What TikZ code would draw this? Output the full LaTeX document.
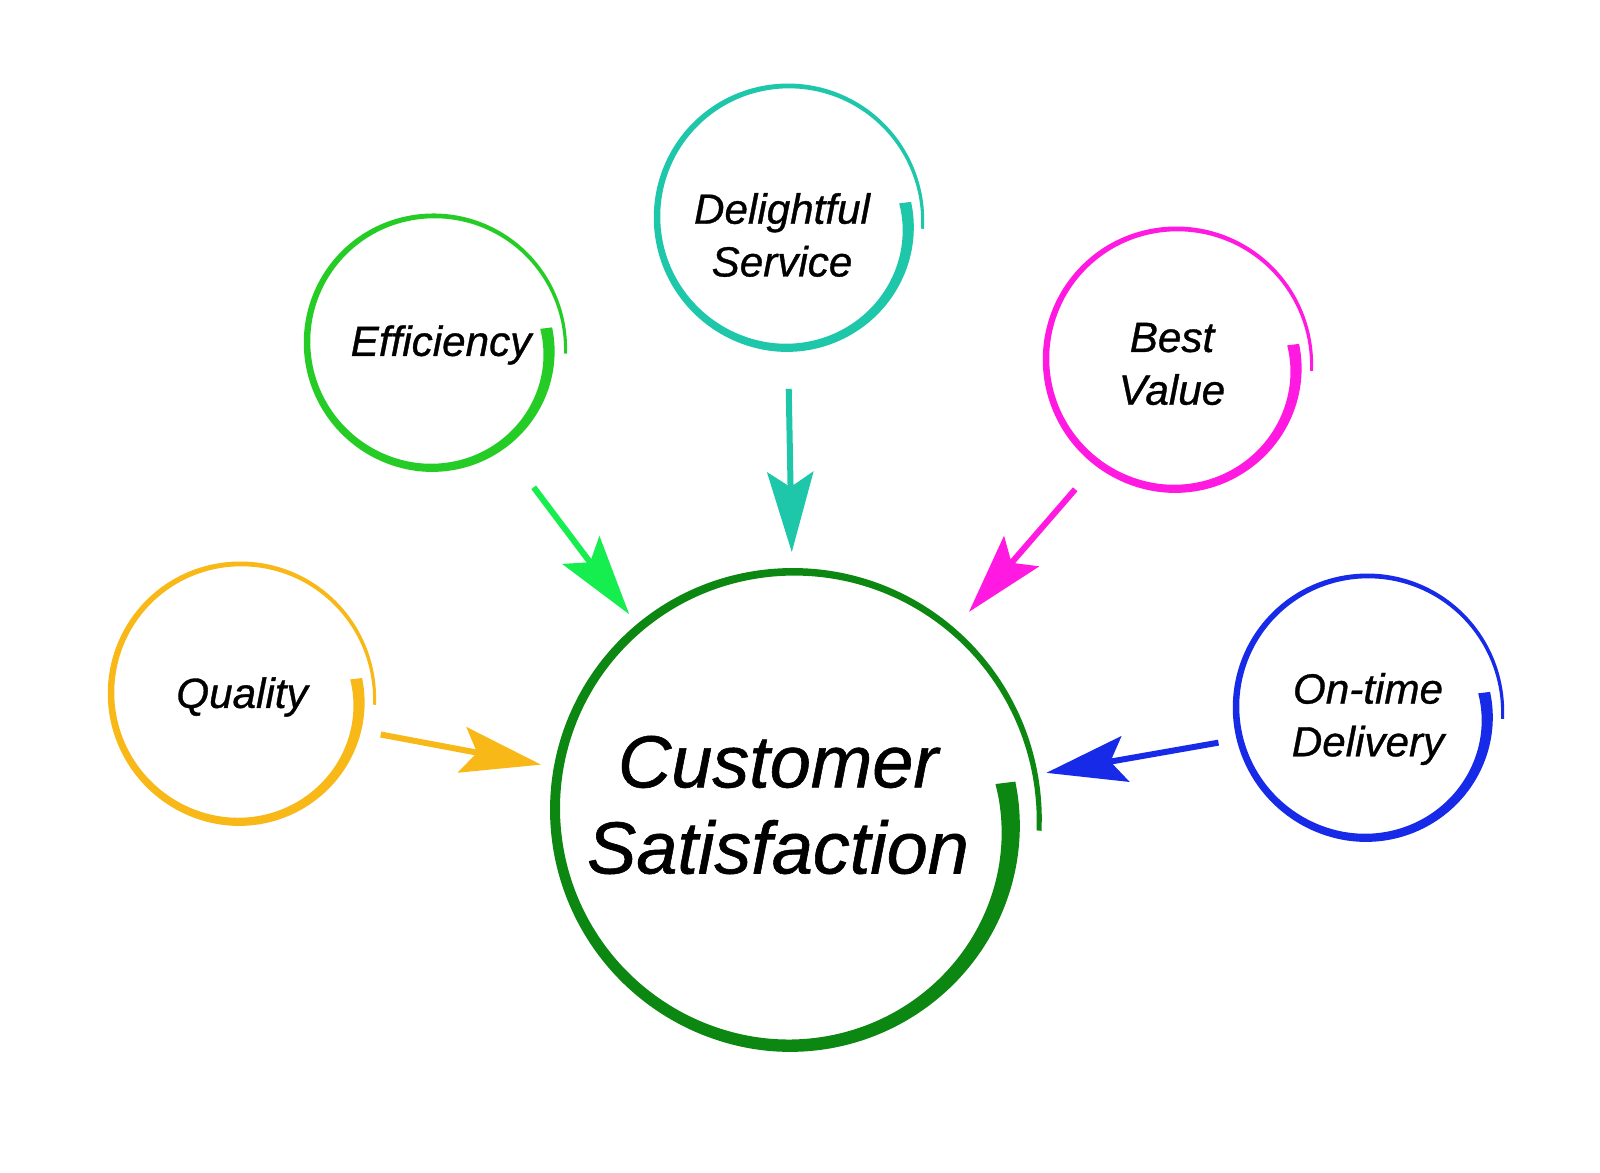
\documentclass[tikz,border=0pt]{standalone}
\usepackage{fontspec}
\setmainfont{Liberation Sans}[ItalicFeatures={FakeBold=0.8}]
\usetikzlibrary{arrows.meta, positioning}

\definecolor{csgreen}{RGB}{12,135,18}
\definecolor{qualityorange}{RGB}{247,184,24}
\definecolor{effgreen}{RGB}{38,204,38}
\definecolor{effarrow}{RGB}{22,238,80}
\definecolor{serviceteal}{RGB}{30,198,170}
\definecolor{valuemagenta}{RGB}{255,25,225}
\definecolor{deliveryblue}{RGB}{22,42,232}

\tikzset{
  ring/.style = {circle, inner sep=0pt, minimum size=2.66cm},
  hub/.style = {circle, inner sep=0pt, minimum size=4.88cm},
  lbl/.style = {align=center, font=\fontsize{12}{15}\selectfont\itshape},
  hublbl/.style = {align=center, font=\fontsize{21}{24.5}\selectfont\itshape},
  link/.style = {line width=0.06cm, -{Stealth[length=0.8cm, width=0.46cm, inset=0.15cm]}}
}

% brush ring: node, colour, radius, inward start, outward end, start width, mid width, end width
\newcommand{\brushring}[8]{%
  \begin{scope}[shift={(#1.center)}, declare function={%
      rr(\t)=#3-#4*(max(0,1-(\t+7)/110))^2+#5*(max(0,1-(365-\t)/110))^2;
      ww(\t)=#7+(#8-#7)*(\t+7)/372+(#6-#7)*(max(0,1-(\t+7)/80))^2;}]
    \fill[#2] plot[smooth, samples=120, domain=-7:365, variable=\t]
        ({(rr(\t)+ww(\t)/2)*cos(\t)}, {(rr(\t)+ww(\t)/2)*sin(\t)})
      -- plot[smooth, samples=120, domain=365:-7, variable=\t]
        ({(rr(\t)-ww(\t)/2)*cos(\t)}, {(rr(\t)-ww(\t)/2)*sin(\t)})
      -- cycle;
  \end{scope}}

\begin{document}
\begin{tikzpicture}[x=0.01cm, y=-0.01cm]
\useasboundingbox (0,0) rectangle (1600,1173);

% Rings
\node[hub] (cs) at (792,809) {};
\node[ring] (quality) at (240,693) {};
\node[ring] (efficiency) at (433,342) {};
\node[ring] (service) at (788,217) {};
\node[ring] (value) at (1176,359) {};
\node[ring] (delivery) at (1367,707) {};

\brushring{cs}{csgreen}{237}{22}{11}{20}{15}{5}
\brushring{quality}{qualityorange}{129}{12}{6}{12}{10}{3}
\brushring{efficiency}{effgreen}{126}{12}{7}{12}{10}{3}
\brushring{service}{serviceteal}{131}{13}{4}{12}{10}{3}
\brushring{value}{valuemagenta}{130}{12}{6}{12}{10}{3}
\brushring{delivery}{deliveryblue}{131}{13}{5}{12}{10}{3}

% Labels
\node[hublbl] (cstext) at (778,805) {Customer\\Satisfaction};
\node[lbl] (qualitytext) at (242,697) {Quality};
\node[lbl] (efficiencytext) at (441,345) {Efficiency};
\node[lbl] (servicetext) at (782,235) {Delightful\\Service};
\node[lbl] (valuetext) at (1172,364) {Best\\Value};
\node[lbl] (deliverytext) at (1368,719) {On-time\\Delivery};

% Arrows
\draw[link, qualityorange, shorten <=0.13cm, shorten >=0.10cm] (quality.-17) -- (cs.170);
\draw[link, effarrow, shorten <=0.43cm, shorten >=0.09cm] (efficiency.-56) -- (cs.130);
\draw[link, serviceteal, shorten <=0.38cm, shorten >=0.12cm] (service.-90) -- (cs.90);
\draw[link, valuemagenta, shorten <=0.31cm, shorten >=0.20cm] (value.-127) -- (cs.48);
\draw[link, deliveryblue, shorten <=0.19cm, shorten >=0.12cm] (delivery.-166) -- (cs.8);

\end{tikzpicture}
\end{document}
